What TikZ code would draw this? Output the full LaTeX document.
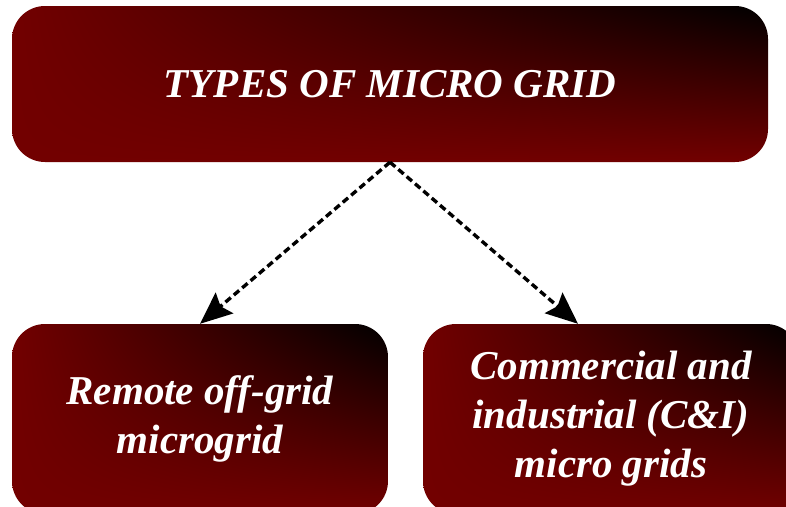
\documentclass[tikz,border=0pt]{standalone}
\usepackage{fontspec}
\setmainfont{Liberation Serif}
\usepackage{xcolor}
\usepackage{tikz}
\usetikzlibrary{arrows.meta,calc,shadings}

\definecolor{gridred}{HTML}{720000}

\tikzset{
  gridbox/.style={rounded corners=33pt, upper left=gridred, lower left=gridred,
    lower right=gridred, upper right=black, text=white, align=center,
    font=\fontsize{41}{49}\selectfont\bfseries\itshape, inner sep=0pt},
  flow/.style={line width=3.4pt, dash pattern=on 7pt off 4pt,
    -{Stealth[length=32pt,width=27pt,inset=5pt]}}
}

\begin{document}
\begin{tikzpicture}[x=1pt,y=-1pt]
\useasboundingbox (0,0) rectangle (786,506);
\clip (0,0) rectangle (786,506);

\node[gridbox, minimum width=756pt, minimum height=156pt] (types) at (390,84)
  {TYPES OF MICRO GRID};
\node[gridbox, minimum width=376pt, minimum height=190pt] (remote) at (200,419)
  {Remote off-grid\\microgrid};
\node[gridbox, minimum width=376pt, minimum height=190pt] (ci) at (611,419)
  {Commercial and\\industrial (C\&I)\\micro grids};

\draw[flow] (types.south) -- (remote.north);
\draw[flow] (types.south) -- ($(ci.north)+(-33,0)$);

\end{tikzpicture}
\end{document}
